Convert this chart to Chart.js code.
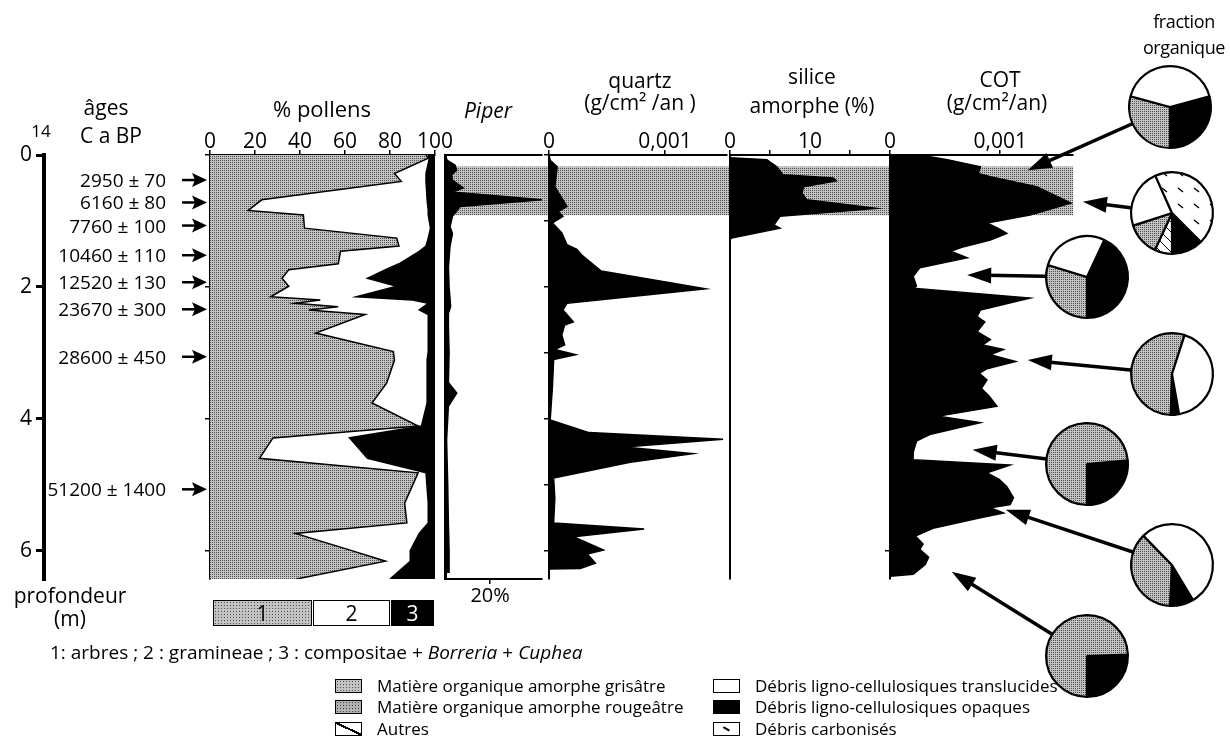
<!DOCTYPE html>
<html>
<head>
<meta charset="utf-8">
<script src="https://cdn.jsdelivr.net/npm/chart.js@4.4.1/dist/chart.umd.min.js"></script>
<style>
body { margin: 0; background: #fff; }
#fig { position: relative; width: 1230px; height: 750px; overflow: hidden; font-family: 'Open Sans', sans-serif; color: #000; }
#fig canvas { position: absolute; }
.t { position: absolute; white-space: nowrap; line-height: 1.2; }
.sw { position: absolute; width: 25px; height: 12px; border: 1.5px solid #000; background: #fff; }
</style>
</head>
<body>
<div id="fig"></div>
<script>
// profondeur (m), commune a tous les panneaux
const depthMax = 6.43;
const depthTicks = [0, 2, 4, 6];
const depthMinorTicks = [0, 1, 2, 3, 4, 5, 6];

// ages 14C a BP
const ageLabels = ['2950 ± 70', '6160 ± 80', '7760 ± 100', '10460 ± 110', '12520 ± 130', '23670 ± 300', '28600 ± 450', '51200 ± 1400'];
const ageDepth = [0.38, 0.72, 1.07, 1.52, 1.93, 2.34, 3.06, 5.07];

// % pollens : 1 arbres, 2 gramineae, 3 compositae + Borreria + Cuphea
const pollenDepth = [0, 0.05, 0.28, 0.40, 0.68, 0.84, 0.91, 1.11, 1.26, 1.38, 1.46, 1.65, 1.74, 1.87, 1.99, 2.15, 2.20, 2.25, 2.30, 2.35, 2.42, 2.70, 2.98, 3.11, 3.46, 3.76, 4.11, 4.29, 4.60, 4.82, 5.28, 5.58, 5.74, 6.00, 6.16, 6.43];
const arbres =      [96, 97, 82, 85, 23, 17, 41.5, 42, 83, 84, 58, 57, 35, 32, 35, 27, 49, 38, 57, 44, 69, 47, 81.5, 82, 78.5, 72, 92.5, 28, 22, 92.5, 86.5, 87.5, 38, 63, 78, 38.5];
const gramineae =   [1, 0.5, 14, 11, 73.5, 80, 55.5, 56, 14, 12, 35, 27, 43, 38, 48, 38, 41, 59, 38, 49, 28, 50, 15.5, 14.5, 18, 24.5, 1.5, 34, 48, 3.5, 10.5, 9.5, 55, 26, 11, 41.5];
const compositae =  [3, 2.5, 4, 4, 3.5, 3, 3, 2, 3, 4, 7, 16, 22, 30, 17, 35, 10, 3, 5, 7, 3, 3, 3, 3.5, 3.5, 3.5, 6, 38, 30, 4, 3, 3, 7, 11, 11, 20];
const pollenTicks = [0, 20, 40, 60, 80, 100];

// Piper (%)
const piperDepth = [0, 0.08, 0.15, 0.23, 0.30, 0.38, 0.50, 0.56, 0.68, 0.78, 0.93, 1.09, 1.19, 1.39, 1.70, 2.00, 2.30, 2.40, 2.60, 3.00, 3.45, 3.61, 3.81, 4.32, 5.00, 5.60, 6.00, 6.34];
const piper =      [0, 1, 4.4, 5.2, 3, 3.3, 8.1, 3, 43, 6.7, 3.3, 2.2, 3.3, 2.2, 1.5, 1.8, 2.5, 1.5, 1.5, 1.8, 1.5, 5.2, 1.5, 0.7, 1.2, 1.5, 1.8, 1.8];

// quartz (g/cm2/an)
const quartzDepth = [0, 0.08, 0.18, 0.48, 0.78, 0.86, 0.93, 1.03, 1.18, 1.36, 1.43, 1.53, 1.76, 2.03, 2.25, 2.35, 2.53, 2.58, 2.73, 2.88, 2.95, 3.03, 3.10, 3.50, 4.02, 4.21, 4.31, 4.43, 4.53, 4.66, 4.90, 5.20, 5.58, 5.67, 5.79, 5.99, 6.05, 6.19, 6.27, 6.28];
const quartz = [0, 0.00001, 0.00007, 0.00005, 0.000155, 0.00008, 0.00012, 0.00003, 0.00011, 0.000155, 0.00024, 0.00029, 0.00045, 0.00135, 0.000155, 0.00012, 0.00021, 0.000135, 0.00011, 0.000135, 0.00005, 0.00023, 0.00004, 0.00003, 0.00001, 0.000345, 0.0015, 0.00065, 0.00124, 0.0007, 0.00004, 0.00005, 0.00004, 0.00082, 0.00021, 0.00047, 0.00033, 0.0004, 0.00027, 0];
const quartzTicks = [0, 0.001];
const quartzTickLabels = ['0', '0,001'];

// silice amorphe (%)
const siliceDepth = [0.04, 0.07, 0.18, 0.30, 0.35, 0.39, 0.48, 0.58, 0.68, 0.81, 0.93, 1.06, 1.11, 1.26, 1.28];
const silice =      [0, 4.6, 5.85, 6.6, 12.9, 13.3, 9.2, 9.0, 9.6, 18.3, 6.25, 5.5, 6.25, 0.2, 0];
const siliceTicks = [0, 5, 10, 15];
const siliceTickLabels = ['0', '', '10', ''];

// COT (g/cm2/an)
const cotDepth = [0, 0.07, 0.18, 0.28, 0.33, 0.48, 0.73, 0.91, 1.03, 1.12, 1.19, 1.29, 1.39, 1.46, 1.56, 1.71, 1.84, 1.99, 2.02, 2.17, 2.35, 2.45, 2.53, 2.68, 2.80, 2.88, 2.95, 3.03, 3.13, 3.24, 3.31, 3.41, 3.54, 3.66, 3.81, 3.96, 4.06, 4.24, 4.34, 4.51, 4.62, 4.70, 4.82, 4.92, 5.03, 5.20, 5.30, 5.35, 5.43, 5.50, 5.66, 5.78, 5.90, 5.98, 6.10, 6.21, 6.36, 6.39];
const cot = [0.00027, 0.00052, 0.00082, 0.0008, 0.00091, 0.00133, 0.00164, 0.00127, 0.00088, 0.00099, 0.00106, 0.00091, 0.00067, 0.00055, 0.0007, 0.00027, 0.00021, 0.00024, 0.00021, 0.00127, 0.00082, 0.00079, 0.00086, 0.00079, 0.00091, 0.00084, 0.00103, 0.00091, 0.00114, 0.00088, 0.00081, 0.00088, 0.00083, 0.00090, 0.00097, 0.00044, 0.00082, 0.00036, 0.00024, 0.00021, 0.00021, 0.00109, 0.00088, 0.00099, 0.00106, 0.00112, 0.00109, 0.00091, 0.00103, 0.00082, 0.00039, 0.00023, 0.0003, 0.00027, 0.00035, 0.00032, 0.00021, 0];
const cotTicks = [0, 0.001];
const cotTickLabels = ['0', '0,001'];

// zone grisee (profondeur haut / bas)
const bandDepth = [0.18, 0.91];

// fraction organique (%), ordre horaire a partir de pieStart (degres)
const pieStart =    [75, 135, 25, 170, 85, 149, 88];
const pieOpaques =  [29.2, 12.5, 43, 3.3, 26.4, 9.4, 25.6];
const pieAutres =   [0, 6.9, 0, 0, 0, 0, 0];
const pieGris =     [29.2, 13.1, 29.7, 54.4, 73.6, 36.9, 74.4];
const pieTransl =   [41.6, 23.3, 27.2, 42.2, 0, 53.6, 0];
const pieCarbo =    [0, 44.2, 0, 0, 0, 0, 0];
// echantillon vise par chaque fleche (profondeur, COT)
const pieDepth = [0.23, 0.71, 1.82, 3.11, 4.47, 5.38, 6.32];
const pieCot =   [0.00125, 0.00175, 0.0007, 0.00125, 0.00075, 0.00105, 0.00056];

// mise en page
const TOP = 155, BOTTOM = 579;
const pieX = [1170, 1172, 1087, 1172, 1087, 1172, 1087];
const pieY = [107, 213, 277, 374, 464, 565, 656];
const pieR = 42;

Chart.defaults.font.family = "'Open Sans', sans-serif";
Chart.defaults.color = '#000';

const fig = document.getElementById('fig');

function addCanvas(left, top, w, h) {
    var c = document.createElement('canvas');
    c.width = w; c.height = h;
    c.style.left = left + 'px'; c.style.top = top + 'px';
    c.style.width = w + 'px'; c.style.height = h + 'px';
    fig.appendChild(c);
    return c;
}

function addText(html, x, y, o) {
    o = o || {};
    var d = document.createElement('div');
    d.className = 't';
    d.innerHTML = html;
    d.style.left = x + 'px';
    d.style.top = y + 'px';
    d.style.fontSize = (o.size || 20) + 'px';
    if (o.italic) d.style.fontStyle = 'italic';
    if (o.spacing) d.style.letterSpacing = o.spacing + 'px';
    var tx = o.align === 'left' ? '0' : (o.align === 'right' ? '-100%' : '-50%');
    d.style.transform = 'translate(' + tx + ',-50%)';
    fig.appendChild(d);
    return d;
}

// trame pointillee (gris)
function makePattern(base, dot) {
    var c = document.createElement('canvas');
    c.width = 2; c.height = 2;
    var g = c.getContext('2d');
    g.fillStyle = base; g.fillRect(0, 0, 2, 2);
    g.fillStyle = dot; g.fillRect(0, 0, 1, 1);
    return g.createPattern(c, 'repeat');
}

function dashPattern() {
    var c = document.createElement('canvas');
    c.width = 16; c.height = 16;
    var g = c.getContext('2d');
    g.fillStyle = '#fff'; g.fillRect(0, 0, 16, 16);
    g.strokeStyle = '#000'; g.lineWidth = 1.5;
    g.beginPath(); g.moveTo(4, 5); g.lineTo(9, 9); g.stroke();
    return g.createPattern(c, 'repeat');
}

function linePattern() {
    var c = document.createElement('canvas');
    c.width = 10; c.height = 10;
    var g = c.getContext('2d');
    g.fillStyle = '#fff'; g.fillRect(0, 0, 10, 10);
    g.strokeStyle = '#000'; g.lineWidth = 1;
    g.beginPath(); g.moveTo(0, 0); g.lineTo(10, 10); g.stroke();
    return g.createPattern(c, 'repeat');
}

const grayPattern = makePattern('#c2c2c2', '#505050');
const carboPattern = dashPattern();
const autresPattern = linePattern();
const grayCss = '#c2c2c2 radial-gradient(circle, #505050 0.5px, transparent 0.8px) 0 0/3px 3px';
const redCss = '#b2b2b2 radial-gradient(circle, #404040 0.6px, transparent 0.9px) 0 0/3px 3px';

function area(depths, values, color, fill) {
    return {
        xAxisID: 'x',
        data: depths.map(function(d, i) { return {x: values[i], y: d}; }),
        borderColor: '#000',
        borderWidth: 1.5,
        backgroundColor: color,
        fill: fill,
        pointRadius: 0,
        tension: 0
    };
}

function topAxis(min, max, ticks, labels) {
    return {
        type: 'linear', position: 'top', min: min, max: max,
        afterFit: function(s) { s.height = 55; },
        afterBuildTicks: function(s) { s.ticks = ticks.map(function(v) { return {value: v}; }); },
        ticks: {callback: function(v, i) { return labels[i]; }, font: {size: 21}, padding: -5, maxRotation: 0, autoSkip: false},
        grid: {drawOnChartArea: false, tickLength: 5, color: '#000', lineWidth: 1.5},
        border: {color: '#000', width: 2}
    };
}

function sideAxis(ticks, width) {
    return {
        type: 'linear', reverse: true, min: 0, max: depthMax, position: 'left',
        afterFit: function(s) { s.width = 6; },
        afterBuildTicks: function(s) { s.ticks = ticks.map(function(v) { return {value: v}; }); },
        ticks: {display: false},
        grid: {drawOnChartArea: false, tickLength: 5, color: '#000', lineWidth: 1.5},
        border: {color: '#000', width: width || 2}
    };
}

function panelChart(x0, x1, o) {
    var padL = 60, padR = o.padR || 60;
    var cv = addCanvas(x0 - padL, 0, x1 - x0 + padL + padR, 750);
    var scales = {x: o.x, y: o.y};
    var bottomH = 0;
    if (o.x2) { scales.x2 = o.x2; bottomH = 41; }
    if (o.stacked) scales.x.stacked = true;
    return new Chart(cv, {
        type: 'line',
        data: {datasets: o.datasets},
        options: {
            indexAxis: 'y',
            responsive: false,
            animation: false,
            events: [],
            layout: {autoPadding: false, padding: {left: padL - 6, right: padR, top: TOP - 55, bottom: 750 - BOTTOM - bottomH}},
            plugins: {legend: {display: false}, tooltip: {enabled: false}},
            scales: scales
        },
        plugins: o.plugins || []
    });
}

// zone grisee derriere les panneaux
(function() {
    var cv = addCanvas(448, 0, 625, 750);
    new Chart(cv, {
        type: 'bar',
        data: {labels: ['zone'], datasets: [{data: [bandDepth], backgroundColor: grayPattern, borderWidth: 0, barPercentage: 1, categoryPercentage: 1}]},
        options: {
            responsive: false, animation: false, events: [],
            layout: {autoPadding: false, padding: {left: 0, right: 0, top: TOP, bottom: 750 - BOTTOM}},
            plugins: {legend: {display: false}, tooltip: {enabled: false}},
            scales: {
                x: {display: false},
                y: {display: false, reverse: true, min: 0, max: depthMax}
            }
        }
    });
})();

// axe des profondeurs + fleches des ages
const ageArrows = {
    id: 'ageArrows',
    afterDraw: function(chart) {
        var ctx = chart.ctx, y = chart.scales.y;
        ctx.save();
        ctx.fillStyle = '#000'; ctx.strokeStyle = '#000'; ctx.lineWidth = 2.5;
        ageDepth.forEach(function(d) {
            var py = y.getPixelForValue(d);
            ctx.beginPath(); ctx.moveTo(182, py); ctx.lineTo(197, py); ctx.stroke();
            ctx.beginPath(); ctx.moveTo(207, py); ctx.lineTo(192, py - 7); ctx.lineTo(195, py); ctx.lineTo(192, py + 7); ctx.closePath(); ctx.fill();
        });
        ctx.restore();
    }
};

const depthChart = new Chart(addCanvas(0, 0, 220, 750), {
    type: 'line',
    data: {datasets: []},
    options: {
        responsive: false, animation: false, events: [],
        layout: {autoPadding: false, padding: {left: 0, right: 100, top: TOP, bottom: 750 - BOTTOM}},
        plugins: {legend: {display: false}, tooltip: {enabled: false}},
        scales: {
            x: {type: 'linear', display: false, min: 0, max: 1},
            y: {
                type: 'linear', reverse: true, min: 0, max: depthMax, position: 'left',
                afterFit: function(s) { s.width = 44; },
                afterBuildTicks: function(s) { s.ticks = depthTicks.map(function(v) { return {value: v}; }); },
                ticks: {font: {size: 21}, padding: 4},
                grid: {drawOnChartArea: false, tickLength: 8, lineWidth: 3, color: '#000'},
                border: {width: 4, color: '#000'}
            }
        }
    },
    plugins: [ageArrows]
});

// % pollens
panelChart(210, 435, {
    x: topAxis(0, 100, pollenTicks, pollenTicks.map(String)),
    y: sideAxis(depthTicks),
    stacked: true,
    datasets: [
        area(pollenDepth, arbres, grayPattern, 'origin'),
        area(pollenDepth, gramineae, '#fff', '-1'),
        area(pollenDepth, compositae, '#000', '-1')
    ]
});

// Piper
panelChart(445, 542, {
    x: topAxis(0, 43, [], []),
    x2: {
        type: 'linear', position: 'bottom', min: 0, max: 43,
        afterFit: function(s) { s.height = 41; },
        afterBuildTicks: function(s) { s.ticks = [{value: 20}]; },
        ticks: {callback: function() { return '20%'; }, font: {size: 20}, padding: 0, maxRotation: 0},
        grid: {drawOnChartArea: false, tickLength: 5, color: '#000', lineWidth: 1.5},
        border: {color: '#000', width: 2}
    },
    y: sideAxis([], 3),
    datasets: [area(piperDepth, piper, '#000', 'origin')]
});

// quartz
panelChart(549, 727, {
    x: topAxis(0, 0.001534, quartzTicks, quartzTickLabels),
    y: sideAxis(depthMinorTicks),
    datasets: [area(quartzDepth, quartz, '#000', 'origin')]
});

// silice amorphe
panelChart(730, 890, {
    x: topAxis(0, 20, siliceTicks, siliceTickLabels),
    y: sideAxis([]),
    datasets: [area(siliceDepth, silice, '#000', 'origin')]
});

// COT + fleches vers les diagrammes
const pieArrows = {
    id: 'pieArrows',
    afterDraw: function(chart) {
        var ctx = chart.ctx, x = chart.scales.x, y = chart.scales.y;
        var off = chart.canvas.offsetLeft;
        ctx.save();
        ctx.fillStyle = '#000'; ctx.strokeStyle = '#000';
        pieDepth.forEach(function(d, i) {
            var tx = x.getPixelForValue(pieCot[i]), ty = y.getPixelForValue(d);
            var sx = pieX[i] - off, sy = pieY[i];
            var a = Math.atan2(ty - sy, tx - sx);
            var hl = 24, hw = 8;
            var bx = tx - hl * Math.cos(a), by = ty - hl * Math.sin(a);
            ctx.lineWidth = 3.5;
            ctx.beginPath(); ctx.moveTo(sx, sy); ctx.lineTo(bx + 4 * Math.cos(a), by + 4 * Math.sin(a)); ctx.stroke();
            ctx.beginPath();
            ctx.moveTo(tx, ty);
            ctx.lineTo(bx + hw * Math.sin(a), by - hw * Math.cos(a));
            ctx.lineTo(bx - hw * Math.sin(a), by + hw * Math.cos(a));
            ctx.closePath(); ctx.fill();
        });
        ctx.restore();
    }
};

panelChart(890, 1073, {
    padR: 157,
    x: topAxis(0, 0.00166, cotTicks, cotTickLabels),
    y: sideAxis([6]),
    datasets: [area(cotDepth, cot, '#000', 'origin')],
    plugins: [pieArrows]
});

// fraction organique
pieStart.forEach(function(start, i) {
    var parts = [
        ['Débris ligno-cellulosiques opaques', pieOpaques[i], '#000'],
        ['Autres', pieAutres[i], autresPattern],
        ['Matière organique amorphe grisâtre', pieGris[i], grayPattern],
        ['Débris ligno-cellulosiques translucides', pieTransl[i], '#fff'],
        ['Débris carbonisés', pieCarbo[i], carboPattern]
    ].filter(function(p) { return p[1] > 0; });
    var cv = addCanvas(pieX[i] - pieR - 4, pieY[i] - pieR - 4, 2 * pieR + 8, 2 * pieR + 8);
    new Chart(cv, {
        type: 'pie',
        data: {
            labels: parts.map(function(p) { return p[0]; }),
            datasets: [{
                data: parts.map(function(p) { return p[1]; }),
                backgroundColor: parts.map(function(p) { return p[2]; }),
                borderColor: '#000',
                borderWidth: 2.2
            }]
        },
        options: {
            responsive: false, animation: false, events: [],
            rotation: start,
            layout: {padding: 4},
            plugins: {legend: {display: false}, tooltip: {enabled: false}}
        }
    });
});

// textes
addText('âges', 106, 108, {size: 21});
addText('14', 41, 131, {size: 17});
addText('C a BP', 111, 136, {size: 21});
var yDepth = depthChart.scales.y;
ageLabels.forEach(function(t, i) {
    addText(t, 166, yDepth.getPixelForValue(ageDepth[i]), {size: 19, align: 'right'});
});
addText('profondeur', 70, 596, {size: 21});
addText('(m)', 70, 619, {size: 21});
addText('% pollens', 322, 108, {size: 22});
addText('Piper', 488, 111, {size: 21, italic: true});
addText('quartz', 640, 81, {size: 21});
addText('(g/cm² /an )', 640, 103, {size: 21});
addText('silice', 812, 77, {size: 21});
addText('amorphe (%)', 812, 106, {size: 21});
addText('COT', 1000, 80, {size: 21});
addText('(g/cm²/an)', 997, 103, {size: 21});
addText('fraction', 1184, 22, {size: 18, spacing: -0.4});
addText('organique', 1184, 48, {size: 18, spacing: -0.4});

// legende pollens 1 / 2 / 3
(function() {
    var boxes = [[213, 100, grayCss, '1'], [313, 78, '#fff', '2'], [391, 44, '#000', '3']];
    boxes.forEach(function(b) {
        var d = document.createElement('div');
        d.style.cssText = 'position:absolute;top:600px;height:24px;border:1.5px solid #000;font-size:21px;line-height:24px;text-align:center;';
        d.style.left = b[0] + 'px';
        d.style.width = (b[1] - 3) + 'px';
        d.style.background = b[2];
        d.style.color = b[2] === '#000' ? '#fff' : '#000';
        d.textContent = b[3];
        fig.appendChild(d);
    });
})();
addText('1: arbres ; 2 : gramineae ; 3 : compositae + <i>Borreria</i> + <i>Cuphea</i>', 50, 652, {size: 19, align: 'left'});

// legende fraction organique
(function() {
    var rows = [
        [335, 686, 'gris', 'Matière organique amorphe grisâtre'],
        [335, 707, 'rouge', 'Matière organique amorphe rougeâtre'],
        [335, 729, 'autres', 'Autres'],
        [713, 686, 'blanc', 'Débris ligno-cellulosiques translucides'],
        [713, 707, 'noir', 'Débris ligno-cellulosiques opaques'],
        [713, 729, 'carbo', 'Débris carbonisés']
    ];
    rows.forEach(function(r) {
        var s = document.createElement('div');
        s.className = 'sw';
        s.style.left = r[0] + 'px';
        s.style.top = (r[1] - 7) + 'px';
        if (r[2] === 'gris') s.style.background = grayCss;
        if (r[2] === 'rouge') s.style.background = redCss;
        if (r[2] === 'noir') s.style.background = '#000';
        if (r[2] === 'autres') s.style.background = 'linear-gradient(to top right, transparent 46%, #000 46%, #000 56%, transparent 56%) #fff';
        if (r[2] === 'carbo') s.innerHTML = '<div style="position:absolute;left:9px;top:5px;width:7px;height:1.6px;background:#000;transform:rotate(30deg)"></div>';
        fig.appendChild(s);
        addText(r[3], r[0] + 42, r[1], {size: 17, align: 'left'});
    });
})();
</script>
</body>
</html>
